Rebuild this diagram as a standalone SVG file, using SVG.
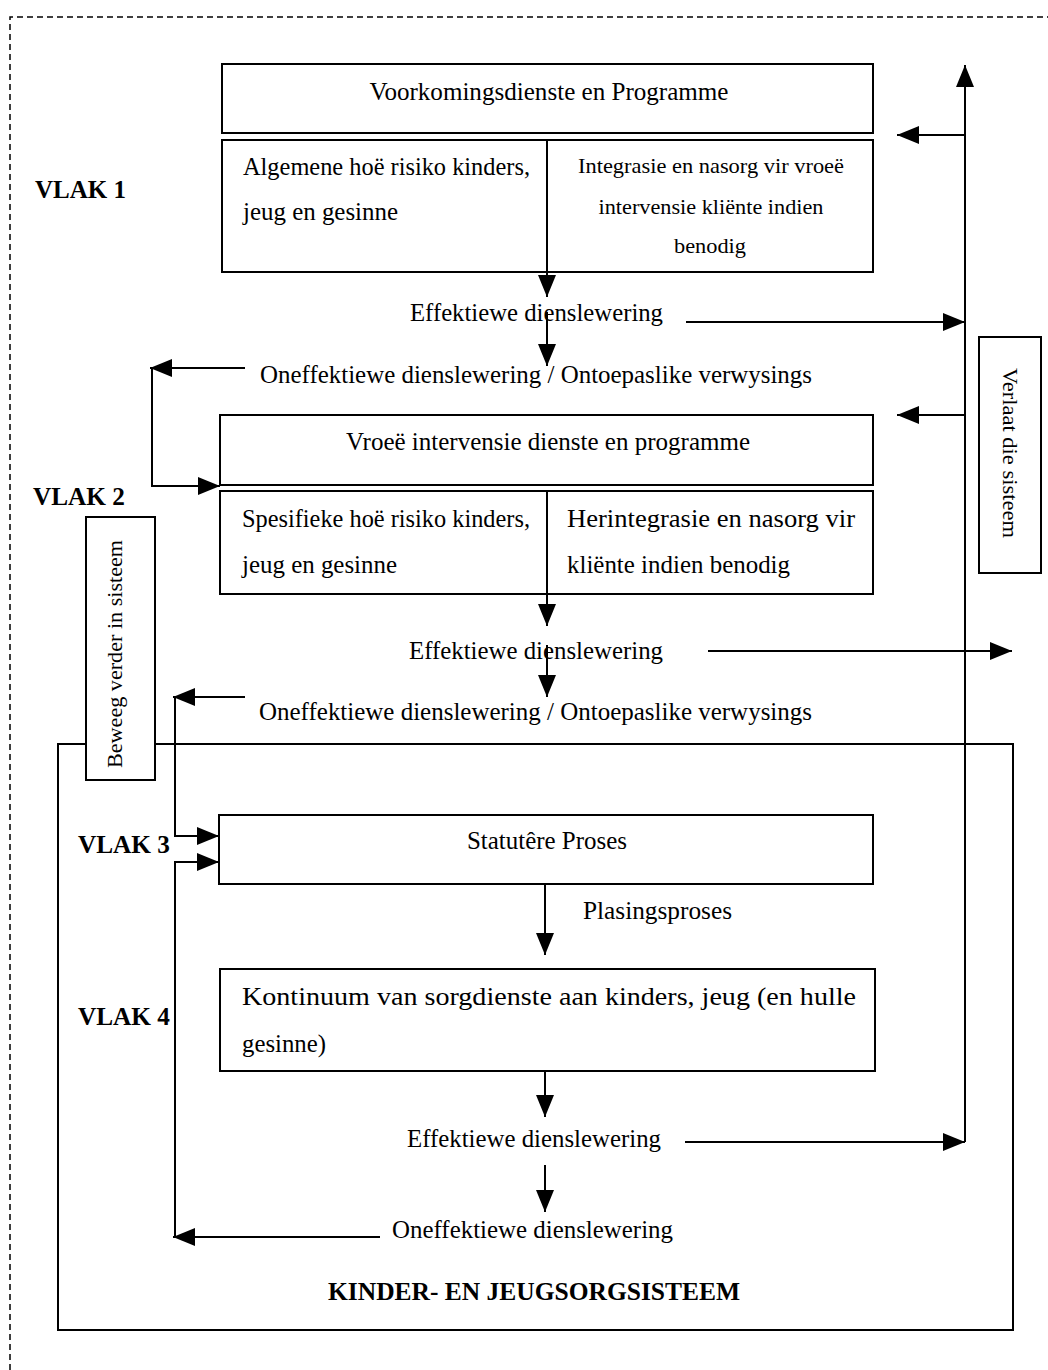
<svg xmlns="http://www.w3.org/2000/svg" width="1048" height="1370" viewBox="0 0 1048 1370">
  <style>
    .box { fill: #fff; stroke: #000; stroke-width: 2; }
    .ln { fill: none; stroke: #000; stroke-width: 2; }
    .t { font-family: "Liberation Serif", "Times New Roman", serif; font-size: 25px; fill: #000; }
    .ts { font-family: "Liberation Serif", "Times New Roman", serif; font-size: 21px; fill: #000; }
    .b { font-family: "Liberation Serif", "Times New Roman", serif; font-size: 25px; font-weight: bold; fill: #000; }
    .v { font-family: "Liberation Serif", "Times New Roman", serif; font-size: 22px; fill: #000; }
    .dash { fill: none; stroke: #000; stroke-width: 1.5; stroke-dasharray: 6 4; }
  </style>
  <defs>
    <marker id="ah" markerUnits="userSpaceOnUse" markerWidth="22" markerHeight="18" refX="22" refY="9" orient="auto">
      <path d="M0,0 L22,9 L0,18 Z" fill="#000"/>
    </marker>
  </defs>

  <rect width="1048" height="1370" fill="#fff"/>

  <!-- outer dashed frame -->
  <path class="dash" d="M10,1370 V17 H1048"/>

  <!-- children and youth care system enclosure -->
  <g id="system">
    <rect class="box" x="58" y="744" width="955" height="586"/>
    <text class="b" x="534" y="1300" text-anchor="middle" textLength="412" lengthAdjust="spacingAndGlyphs">KINDER- EN JEUGSORGSISTEEM</text>
  </g>

  <!-- level labels -->
  <g id="vlak1"><text class="b" x="35" y="198" textLength="91" lengthAdjust="spacingAndGlyphs">VLAK 1</text></g>
  <g id="vlak2"><text class="b" x="33" y="505" textLength="92" lengthAdjust="spacingAndGlyphs">VLAK 2</text></g>
  <g id="vlak3"><text class="b" x="78" y="853" textLength="92" lengthAdjust="spacingAndGlyphs">VLAK 3</text></g>
  <g id="vlak4"><text class="b" x="78" y="1025" textLength="92" lengthAdjust="spacingAndGlyphs">VLAK 4</text></g>

  <!-- level 1 -->
  <g id="voorkoming">
    <rect class="box" x="222" y="64" width="651" height="69"/>
    <text class="t" x="549" y="100" text-anchor="middle" textLength="359" lengthAdjust="spacingAndGlyphs">Voorkomingsdienste en Programme</text>
  </g>
  <g id="algemeen">
    <rect class="box" x="222" y="140" width="651" height="132"/>
    <line class="ln" x1="547" y1="140" x2="547" y2="272"/>
    <text class="t" x="243" y="175" textLength="287" lengthAdjust="spacingAndGlyphs">Algemene hoë risiko kinders,</text>
    <text class="t" x="243" y="220" textLength="155" lengthAdjust="spacingAndGlyphs">jeug en gesinne</text>
    <text class="ts" x="711" y="173" text-anchor="middle" textLength="266" lengthAdjust="spacingAndGlyphs">Integrasie en nasorg vir vroeë</text>
    <text class="ts" x="711" y="214" text-anchor="middle" textLength="225" lengthAdjust="spacingAndGlyphs">intervensie kliënte indien</text>
    <text class="ts" x="710" y="253" text-anchor="middle" textLength="72" lengthAdjust="spacingAndGlyphs">benodig</text>
  </g>
  <g id="eff1"><text class="t" x="410" y="321" textLength="253" lengthAdjust="spacingAndGlyphs">Effektiewe dienslewering</text></g>
  <g id="oneff1"><text class="t" x="260" y="383" textLength="552" lengthAdjust="spacingAndGlyphs">Oneffektiewe dienslewering / Ontoepaslike verwysings</text></g>

  <!-- level 2 -->
  <g id="vroee">
    <rect class="box" x="220" y="415" width="653" height="70"/>
    <text class="t" x="548" y="450" text-anchor="middle" textLength="404" lengthAdjust="spacingAndGlyphs">Vroeë intervensie dienste en programme</text>
  </g>
  <g id="spesifiek">
    <rect class="box" x="220" y="491" width="653" height="103"/>
    <line class="ln" x1="547" y1="491" x2="547" y2="594"/>
    <text class="t" x="242" y="527" textLength="288" lengthAdjust="spacingAndGlyphs">Spesifieke hoë risiko kinders,</text>
    <text class="t" x="242" y="573" textLength="155" lengthAdjust="spacingAndGlyphs">jeug en gesinne</text>
    <text class="t" x="567" y="527" textLength="288" lengthAdjust="spacingAndGlyphs">Herintegrasie  en  nasorg  vir</text>
    <text class="t" x="567" y="573" textLength="223" lengthAdjust="spacingAndGlyphs">kliënte indien benodig</text>
  </g>
  <g id="eff2"><text class="t" x="409" y="659" textLength="254" lengthAdjust="spacingAndGlyphs">Effektiewe dienslewering</text></g>
  <g id="oneff2"><text class="t" x="259" y="720" textLength="553" lengthAdjust="spacingAndGlyphs">Oneffektiewe dienslewering / Ontoepaslike verwysings</text></g>

  <!-- level 3 -->
  <g id="statutere">
    <rect class="box" x="219" y="815" width="654" height="69"/>
    <text class="t" x="547" y="849" text-anchor="middle" textLength="160" lengthAdjust="spacingAndGlyphs">Statutêre Proses</text>
  </g>
  <g id="plasing"><text class="t" x="583" y="919" textLength="149" lengthAdjust="spacingAndGlyphs">Plasingsproses</text></g>

  <!-- level 4 -->
  <g id="kontinuum">
    <rect class="box" x="220" y="969" width="655" height="102"/>
    <text class="t" x="242" y="1005" textLength="614" lengthAdjust="spacingAndGlyphs">Kontinuum  van  sorgdienste  aan  kinders,  jeug  (en  hulle</text>
    <text class="t" x="242" y="1052" textLength="84" lengthAdjust="spacingAndGlyphs">gesinne)</text>
  </g>
  <g id="eff4"><text class="t" x="407" y="1147" textLength="254" lengthAdjust="spacingAndGlyphs">Effektiewe dienslewering</text></g>
  <g id="oneff4"><text class="t" x="392" y="1238" textLength="281" lengthAdjust="spacingAndGlyphs">Oneffektiewe dienslewering</text></g>

  <!-- side boxes -->
  <g id="verlaat">
    <rect class="box" x="979" y="337" width="62" height="236"/>
    <text class="v" transform="translate(1003,453) rotate(90)" text-anchor="middle" textLength="170" lengthAdjust="spacingAndGlyphs">Verlaat die sisteem</text>
  </g>

  <!-- connectors -->
  <g id="connectors">
    <!-- downward flow -->
    <line class="ln" x1="547" y1="272" x2="547" y2="297" marker-end="url(#ah)"/>
    <line class="ln" x1="547" y1="312" x2="547" y2="366" marker-end="url(#ah)"/>
    <line class="ln" x1="547" y1="594" x2="547" y2="626" marker-end="url(#ah)"/>
    <line class="ln" x1="547" y1="645" x2="547" y2="697" marker-end="url(#ah)"/>
    <line class="ln" x1="545" y1="884" x2="545" y2="955" marker-end="url(#ah)"/>
    <line class="ln" x1="545" y1="1071" x2="545" y2="1117" marker-end="url(#ah)"/>
    <line class="ln" x1="545" y1="1165" x2="545" y2="1212" marker-end="url(#ah)"/>

    <!-- exit column on the right -->
    <line class="ln" x1="965" y1="1142" x2="965" y2="65" marker-end="url(#ah)"/>
    <line class="ln" x1="965" y1="135" x2="897" y2="135" marker-end="url(#ah)"/>
    <line class="ln" x1="965" y1="415" x2="897" y2="415" marker-end="url(#ah)"/>
    <line class="ln" x1="686" y1="322" x2="965" y2="322" marker-end="url(#ah)"/>
    <line class="ln" x1="708" y1="651" x2="1012" y2="651" marker-end="url(#ah)"/>
    <line class="ln" x1="685" y1="1142" x2="965" y2="1142" marker-end="url(#ah)"/>

    <!-- level 1 return loop into level 2 -->
    <line class="ln" x1="245" y1="368" x2="150" y2="368" marker-end="url(#ah)"/>
    <path class="ln" d="M152,368 V486 H220" marker-end="url(#ah)"/>

    <!-- level 2 return loop into level 3 -->
    <line class="ln" x1="245" y1="697" x2="173" y2="697" marker-end="url(#ah)"/>
    <path class="ln" d="M175,697 V836 H219" marker-end="url(#ah)"/>

    <!-- level 4 return loop into level 3 -->
    <line class="ln" x1="380" y1="1237" x2="173" y2="1237" marker-end="url(#ah)"/>
    <path class="ln" d="M175,1237 V862 H219" marker-end="url(#ah)"/>
  </g>

  <g id="beweeg">
    <rect class="box" x="86" y="517" width="69" height="263"/>
    <text class="v" transform="translate(122,654) rotate(-90)" text-anchor="middle" textLength="228" lengthAdjust="spacingAndGlyphs">Beweeg verder in sisteem</text>
  </g>
</svg>
